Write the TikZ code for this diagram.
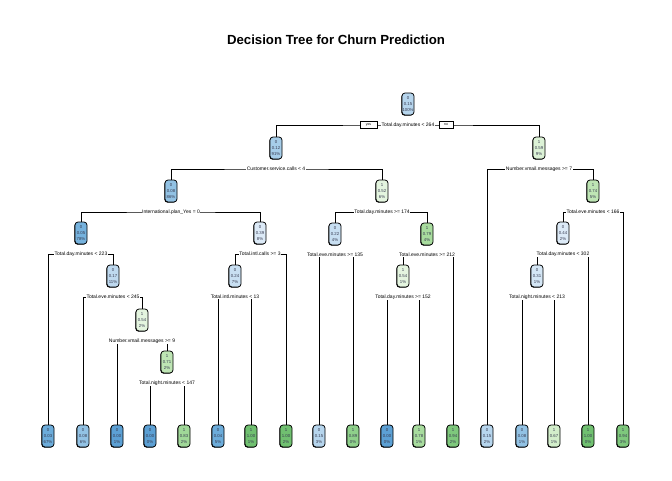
\documentclass[tikz,border=0pt]{standalone}
\usepackage{fontspec}
\setmainfont{Liberation Sans}
\usetikzlibrary{backgrounds,shadows}

% box colours (blue = class 0, green = class 1)
\definecolor{c00}{RGB}{92,160,212}
\definecolor{c03}{RGB}{108,172,218}
\definecolor{c05}{RGB}{118,178,221}
\definecolor{c08}{RGB}{146,194,228}
\definecolor{c12}{RGB}{166,205,233}
\definecolor{c15}{RGB}{182,213,237}
\definecolor{c17}{RGB}{190,217,239}
\definecolor{c22}{RGB}{200,223,242}
\definecolor{c31}{RGB}{212,230,245}
\definecolor{c39}{RGB}{220,234,247}
\definecolor{g100}{RGB}{112,192,112}
\definecolor{g94}{RGB}{126,200,124}
\definecolor{g89}{RGB}{142,208,138}
\definecolor{g83}{RGB}{160,216,152}
\definecolor{g79}{RGB}{168,220,158}
\definecolor{g74}{RGB}{190,229,180}
\definecolor{g67}{RGB}{210,238,202}
\definecolor{g59}{RGB}{220,242,214}
\definecolor{g52}{RGB}{228,245,223}
\definecolor{boxtext}{RGB}{55,58,80}

\begin{document}
\begin{tikzpicture}[
		x=1pt, y=-1pt,
		tnode/.style={draw=black, line width=0.75pt, rounded corners=3pt,
			minimum width=12pt, minimum height=22pt, inner sep=0pt,
			align=center, text=boxtext, font=\fontsize{4.3}{6.2}\selectfont,
			drop shadow={shadow xshift=-0.6pt, shadow yshift=-0.6pt, opacity=1, fill=black}},
		split/.style={fill=white, inner sep=0.6pt, font=\fontsize{5}{6}\selectfont},
		yn/.style={draw=black, line width=0.7pt, fill=white, minimum height=7pt,
			inner sep=0pt, font=\fontsize{3.5}{4}\selectfont},
		edge/.style={line width=0.65pt}
		]
	\useasboundingbox (0,0) rectangle (672,480);
	
	% Title
	\node[font=\bfseries\fontsize{13.2}{15}\selectfont] (title) at (336,40) {Decision Tree for Churn Prediction};
	
	% Inner nodes
	\foreach \n/\x/\y/\cls/\pr/\pc/\col in {
		nA/408/104/0/0.15/100/c15, nB/276/148/0/0.12/91/c12, nC/539/148/1/0.59/9/g59,
		nD/171/191/0/0.08/86/c08, nE/382/191/1/0.52/6/g52, nF/593/191/1/0.74/5/g74,
		nG/81/233/0/0.05/78/c05, nH/260/233/0/0.39/8/c39, nI/335/234/0/0.22/4/c22,
		nJ/427/234/1/0.79/4/g79, nK/563/233/0/0.44/2/c39, nL/113/276/0/0.17/11/c17,
		nM/235/276/0/0.24/7/c22, nN/403/276/1/0.54/1/g52, nO/537/276/0/0.31/1/c31,
		nP/142/320/1/0.54/2/g52, nQ/167/362/1/0.71/2/g74}{
		\node[tnode, fill=\col] (\n) at (\x,\y) {\cls\\\pr\\\pc\%};
	}
	
	% Leaves
	\foreach \i/\x/\cls/\pr/\pc/\col in {
		1/48/0/0.03/67/c03, 2/83/0/0.08/6/c08, 3/117/0/0.00/1/c00,
		4/150/0/0.00/0/c00, 5/184/1/0.83/2/g83, 6/218/0/0.04/5/c03,
		7/251/1/1.00/1/g100, 8/286/1/1.00/2/g100, 9/319/0/0.15/3/c15,
		10/353/1/0.89/0/g89, 11/387/0/0.00/0/c00, 12/419/1/0.78/1/g79,
		13/453/1/0.94/2/g94, 14/487/0/0.15/2/c15, 15/522/0/0.08/1/c08,
		16/554/1/0.67/1/g67, 17/588/1/1.00/0/g100, 18/623/1/0.94/3/g94}{
		\node[tnode, fill=\col] (L\i) at (\x,436) {\cls\\\pr\\\pc\%};
	}
	
	% Splits with their branches
	\foreach \p/\sp/\lc/\rc/\txt in {
		nA/sA/nB/nC/{Total.day.minutes < 264},
		nB/sB/nD/nE/{Customer.service.calls < 4},
		nC/sC/L14/nF/{Number.vmail.messages >= 7},
		nD/sD/nG/nH/{International.plan\_Yes = 0},
		nE/sE/nI/nJ/{Total.day.minutes >= 174},
		nF/sF/nK/L18/{Total.eve.minutes < 166},
		nG/sG/L1/nL/{Total.day.minutes < 223},
		nH/sH/nM/L8/{Total.intl.calls >= 3},
		nI/sI/L9/L10/{Total.eve.minutes >= 135},
		nJ/sJ/nN/L13/{Total.eve.minutes >= 212},
		nK/sK/nO/L17/{Total.day.minutes < 302},
		nL/sL/L2/nP/{Total.eve.minutes < 245},
		nM/sM/L6/L7/{Total.intl.minutes < 13},
		nN/sN/L11/L12/{Total.day.minutes >= 152},
		nO/sO/L15/L16/{Total.night.minutes < 213},
		nP/sP/L3/nQ/{Number.vmail.messages >= 9},
		nQ/sQ/L4/L5/{Total.night.minutes < 147}}{
		\node[split] (\sp) at ([yshift=-21pt]\p.center) {\txt};
		\begin{scope}[on background layer]
			\draw[edge] (\lc.north) |- (\sp.center) -| (\rc.north);
		\end{scope}
	}
	
	% yes / no
	\node[yn, minimum width=17pt] (yes) at (368.5,125) {yes};
	\node[yn, minimum width=14pt] (no) at (446,125) {no};
	
\end{tikzpicture}
\end{document}
